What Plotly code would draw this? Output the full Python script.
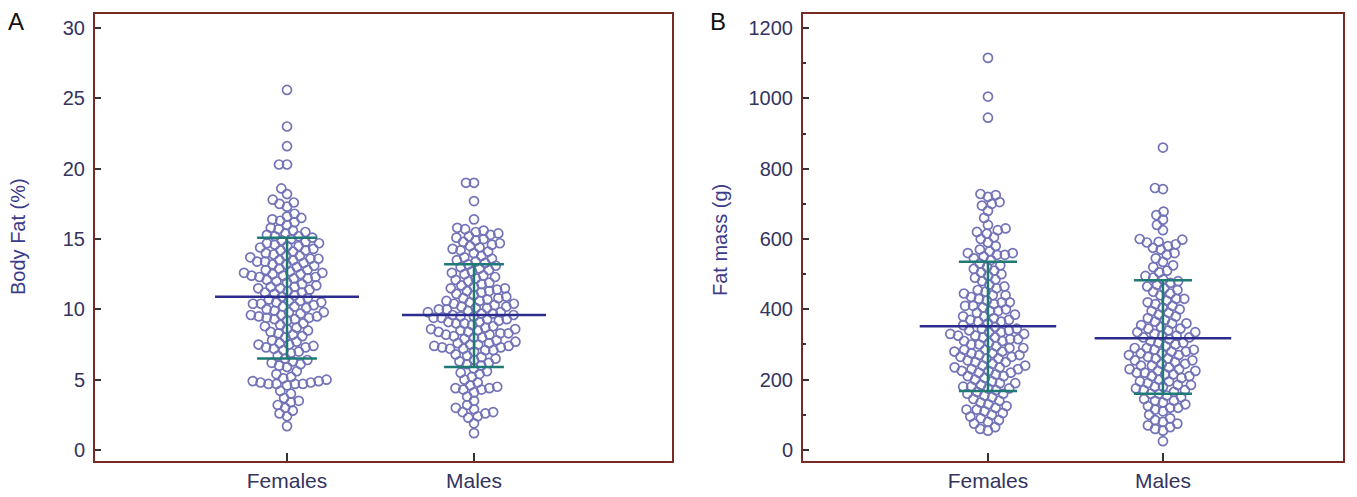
import math
import plotly.graph_objects as go

W, H = 1357, 497

# ---------------- data ----------------
categories = ["Females", "Males"]

bodyfat_females = [
    25.6, 23.0, 21.6, 20.3, 20.3, 18.6, 18.2, 17.8, 17.5, 17.3, 17.6,
    16.2, 16.4, 16.6, 16.8, 16.5, 16.0, 16.3,
    15.1, 15.2, 15.3, 15.4, 15.5, 15.6, 15.8, 15.0, 15.2, 15.7,
    14.1, 14.2, 14.4, 14.5, 14.6, 14.7, 14.8, 14.9, 14.3, 14.5, 14.0, 14.7, 14.2,
    13.0, 13.1, 13.3, 13.4, 13.5, 13.6, 13.7, 13.8, 13.9, 13.2, 13.4, 13.6, 13.8, 13.5, 13.2,
    12.0, 12.1, 12.2, 12.3, 12.4, 12.5, 12.6, 12.7, 12.8, 12.9, 12.2, 12.4, 12.6, 12.3, 12.5, 12.8,
    11.0, 11.2, 11.4, 11.5, 11.6, 11.8, 11.9, 11.1, 11.3, 11.7, 11.5, 11.2, 11.6,
    10.0, 10.1, 10.2, 10.4, 10.5, 10.6, 10.8, 10.9, 10.3, 10.7, 10.5, 10.2, 10.6, 10.4,
    9.0, 9.2, 9.3, 9.4, 9.5, 9.6, 9.7, 9.8, 9.9, 9.3, 9.5, 9.6, 9.4, 9.8,
    8.0, 8.2, 8.3, 8.5, 8.6, 8.8, 8.9, 8.4, 8.1, 8.7,
    7.0, 7.2, 7.3, 7.4, 7.5, 7.6, 7.8, 7.3, 7.5, 7.1, 7.7,
    6.1, 6.3, 6.5, 6.7, 6.9, 6.2, 6.4, 6.0,
    5.1, 5.4, 5.6, 5.9, 5.2,
    4.7, 4.7, 4.7, 4.7, 4.8, 4.8, 4.9, 4.9, 5.0, 4.6,
    4.2, 4.0, 3.7, 3.5, 3.4, 3.2, 3.0,
    2.8, 2.6, 2.4,
    1.7,
]

bodyfat_males = [
    19.0, 19.0, 17.7, 16.4,
    15.0, 15.2, 15.4, 15.5, 15.6, 15.7, 15.8, 15.3, 15.1,
    14.0, 14.2, 14.4, 14.5, 14.6, 14.8, 14.9, 14.3, 14.7, 14.1,
    13.0, 13.2, 13.4, 13.5, 13.6, 13.8, 13.3, 13.7, 13.1,
    12.0, 12.2, 12.3, 12.5, 12.6, 12.8, 12.1, 12.4, 12.7, 12.9,
    11.0, 11.2, 11.4, 11.5, 11.7, 11.8, 11.3, 11.6, 11.1, 11.9, 11.5, 11.3,
    10.0, 10.1, 10.2, 10.3, 10.4, 10.5, 10.6, 10.7, 10.8, 10.9, 10.2, 10.4, 10.6, 10.0, 10.1, 10.8,
    9.0, 9.1, 9.2, 9.3, 9.4, 9.5, 9.6, 9.7, 9.8, 9.9, 9.3, 9.5, 9.7, 9.1, 9.6, 9.8, 9.4, 9.0,
    8.0, 8.1, 8.2, 8.3, 8.4, 8.5, 8.6, 8.7, 8.8, 8.9, 8.2, 8.4, 8.6, 8.0, 8.5, 8.3,
    7.0, 7.1, 7.2, 7.3, 7.4, 7.5, 7.6, 7.7, 7.8, 7.9, 7.3, 7.5, 7.1, 7.4, 7.6, 7.2,
    6.0, 6.2, 6.4, 6.5, 6.6, 6.8, 6.3, 6.1, 6.7,
    5.2, 5.4, 5.6, 5.8, 5.0, 5.5,
    4.3, 4.3, 4.4, 4.4, 4.5, 4.6, 4.8, 4.1,
    3.8, 3.5, 3.2, 3.0,
    2.9, 2.7, 2.7, 2.6, 2.4, 2.3,
    1.9, 1.2,
]

fatmass_females = [
    1115, 1005, 945,
    728, 725, 720, 705, 700, 695,
    680, 660, 640, 630, 625, 620,
    615, 605, 600, 590, 580, 570, 565, 560, 560, 555, 555, 550,
    545, 540, 530, 525, 520, 515, 510, 505, 500, 495,
    490, 485, 480, 470, 465, 460, 455, 450,
    445, 440, 435, 430, 425, 420, 415, 410, 405, 400, 440, 420, 410,
    395, 390, 385, 380, 375, 370, 365, 360, 355, 350, 380, 365, 395, 370,
    345, 340, 335, 330, 325, 320, 315, 310, 305, 300, 340, 330, 320, 310, 345, 335, 325, 315, 300,
    295, 290, 285, 280, 275, 270, 265, 260, 255, 250, 290, 280, 270, 260, 285, 275, 265, 250,
    245, 240, 235, 230, 225, 220, 215, 210, 205, 200, 240, 230, 220, 235, 225, 210,
    195, 190, 185, 180, 175, 170, 165, 160, 155, 150, 180, 190, 175, 160,
    145, 140, 130, 125, 120, 115, 110, 105, 100, 135, 115,
    95, 90, 85, 80, 75, 65, 60, 55,
]

fatmass_males = [
    860, 745, 742, 678, 668, 655, 640, 625,
    600, 598, 592, 590, 585, 580, 575, 570, 560, 555,
    545, 535, 525, 520, 510, 505,
    495, 490, 485, 480, 475, 470, 465, 460, 455, 450,
    445, 440, 430, 425, 420, 415, 410, 400, 430, 405,
    395, 390, 380, 375, 370, 365, 360, 355, 350, 385, 360,
    345, 340, 335, 330, 325, 320, 315, 310, 305, 300, 335, 320, 345, 325, 305,
    295, 290, 285, 280, 275, 270, 265, 260, 255, 250, 290, 280, 270, 260, 285, 275, 255,
    245, 240, 235, 230, 225, 220, 215, 210, 205, 200, 240, 230, 220, 210, 245, 225, 215,
    195, 190, 185, 180, 175, 170, 165, 160, 155, 150, 185, 170, 195, 180, 160,
    145, 140, 135, 130, 125, 120, 115, 110, 100, 140, 120,
    90, 85, 80, 75, 70, 65, 60, 55,
    25,
]

# summary lines: mean, lower (mean-SD), upper (mean+SD)
bodyfat_mean = [10.9, 9.6]
bodyfat_low = [6.5, 5.9]
bodyfat_high = [15.1, 13.2]
fatmass_mean = [352, 318]
fatmass_low = [168, 160]
fatmass_high = [535, 483]

yticks_bodyfat = [0, 5, 10, 15, 20, 25, 30]
yticks_fatmass = [0, 200, 400, 600, 800, 1000, 1200]

# ---------------- layout geometry ----------------
Y_TOP, Y_BOT = 14, 461
A_L, A_R = 95, 672
B_L, B_R = 803, 1343
xrangeA = [-0.027, 3.059]
xrangeB = [-0.057, 3.029]
yrangeA = [-0.78, 31.0]
yrangeB = [-31.3, 1239.8]

POINT_COLOR = "#7373b8"
MEAN_COLOR = "#2c2c8e"
SD_COLOR = "#1f7a76"
FRAME_COLOR = "#7a2a24"
FONT_FAMILY = "Liberation Sans, Arial, sans-serif"
TICK_FONT = dict(family=FONT_FAMILY, size=20, color="#34345e")
CAT_FONT = dict(family=FONT_FAMILY, size=21, color="#34345e")


def swarm(values, center, xr, yr, px_w, px_h, d=8.0):
    """Beeswarm offsets computed in pixel space, returned in data units."""
    sx = px_w / (xr[1] - xr[0])
    sy = px_h / (yr[1] - yr[0])
    order = sorted(range(len(values)), key=lambda i: values[i])
    placed = []
    xs = [0.0] * len(values)
    for i in order:
        yp = values[i] * sy
        cands = [0.0]
        near = [(px, py) for (px, py) in placed if abs(py - yp) < d]
        for px, py in near:
            dx = math.sqrt(max(d * d - (py - yp) ** 2, 0.0))
            cands += [px + dx, px - dx]
        cands.sort(key=lambda c: (abs(c), c))
        for c in cands:
            if all((c - px) ** 2 + (yp - py) ** 2 >= d * d - 1e-6 for px, py in near):
                break
        placed.append((c, yp))
        xs[i] = center + c / sx
    return xs


fig = go.Figure()

panels = [
    ("x", "y", [bodyfat_females, bodyfat_males], bodyfat_mean, bodyfat_low, bodyfat_high,
     xrangeA, yrangeA, A_R - A_L, 0.385, 0.16),
    ("x2", "y2", [fatmass_females, fatmass_males], fatmass_mean, fatmass_low, fatmass_high,
     xrangeB, yrangeB, B_R - B_L, 0.39, 0.166),
]

for xa, ya, groups, means, lows, highs, xr, yr, pw, mhalf, chalf in panels:
    for gi, vals in enumerate(groups):
        center = gi + 1
        xs = swarm(vals, center, xr, yr, pw, Y_BOT - Y_TOP)
        fig.add_trace(go.Scatter(
            x=xs, y=vals, mode="markers", xaxis=xa, yaxis=ya, showlegend=False,
            marker=dict(symbol="circle-open", size=9, color=POINT_COLOR,
                        line=dict(width=1.7, color=POINT_COLOR)),
            hoverinfo="y",
        ))
    for gi in range(2):
        c = gi + 1
        fig.add_trace(go.Scatter(
            x=[c, c], y=[lows[gi], highs[gi]], mode="lines", xaxis=xa, yaxis=ya,
            line=dict(color=SD_COLOR, width=2.5), showlegend=False, hoverinfo="skip"))
        for v in (lows[gi], highs[gi]):
            fig.add_trace(go.Scatter(
                x=[c - chalf, c + chalf], y=[v, v], mode="lines", xaxis=xa, yaxis=ya,
                line=dict(color=SD_COLOR, width=2.5), showlegend=False, hoverinfo="skip"))
        fig.add_trace(go.Scatter(
            x=[c - mhalf, c + mhalf], y=[means[gi], means[gi]], mode="lines",
            xaxis=xa, yaxis=ya, line=dict(color=MEAN_COLOR, width=2.5),
            showlegend=False, hoverinfo="skip"))

common_x = dict(showgrid=False, zeroline=False, showline=True, mirror=True,
                linecolor=FRAME_COLOR, linewidth=2, ticks="inside", ticklen=8,
                tickcolor="#333333", tickwidth=1.5, tickvals=[1, 2], ticktext=categories,
                tickfont=CAT_FONT, fixedrange=True)
common_y = dict(showgrid=False, zeroline=False, showline=True, mirror=True,
                linecolor=FRAME_COLOR, linewidth=2, ticks="inside", ticklen=6,
                tickcolor="#333333", tickwidth=1.5, tickfont=TICK_FONT,
                ticklabelstandoff=4, fixedrange=True)

ydom = [1 - Y_BOT / H, 1 - Y_TOP / H]
fig.update_layout(
    width=W, height=H, margin=dict(l=0, r=0, t=0, b=0),
    paper_bgcolor="white", plot_bgcolor="white",
    xaxis=dict(domain=[A_L / W, A_R / W], range=xrangeA, anchor="y", **common_x),
    yaxis=dict(domain=ydom, range=yrangeA, anchor="x", tickvals=yticks_bodyfat, **common_y),
    xaxis2=dict(domain=[B_L / W, B_R / W], range=xrangeB, anchor="y2", **common_x),
    yaxis2=dict(domain=ydom, range=yrangeB, anchor="x2", tickvals=yticks_fatmass,
                minor=dict(ticks="inside", ticklen=3, dtick=100, tickcolor="#333333"),
                **common_y),
    showlegend=False,
)

annots = [
    dict(text="A", x=16 / W, y=1 - 22 / H, font=dict(size=24, color="#111111")),
    dict(text="B", x=718 / W, y=1 - 22 / H, font=dict(size=24, color="#111111")),
    dict(text="Body Fat (%)", x=18 / W, y=1 - 237 / H, textangle=-90,
         font=dict(size=20, color="#3b3b8a")),
    dict(text="Fat mass (g)", x=720 / W, y=1 - 240 / H, textangle=-90,
         font=dict(size=20, color="#3b3b8a")),
]
for a in annots:
    a.update(xref="paper", yref="paper", showarrow=False, xanchor="center", yanchor="middle")
    a["font"]["family"] = FONT_FAMILY
    fig.add_annotation(**a)

fig.write_html("out.html")
